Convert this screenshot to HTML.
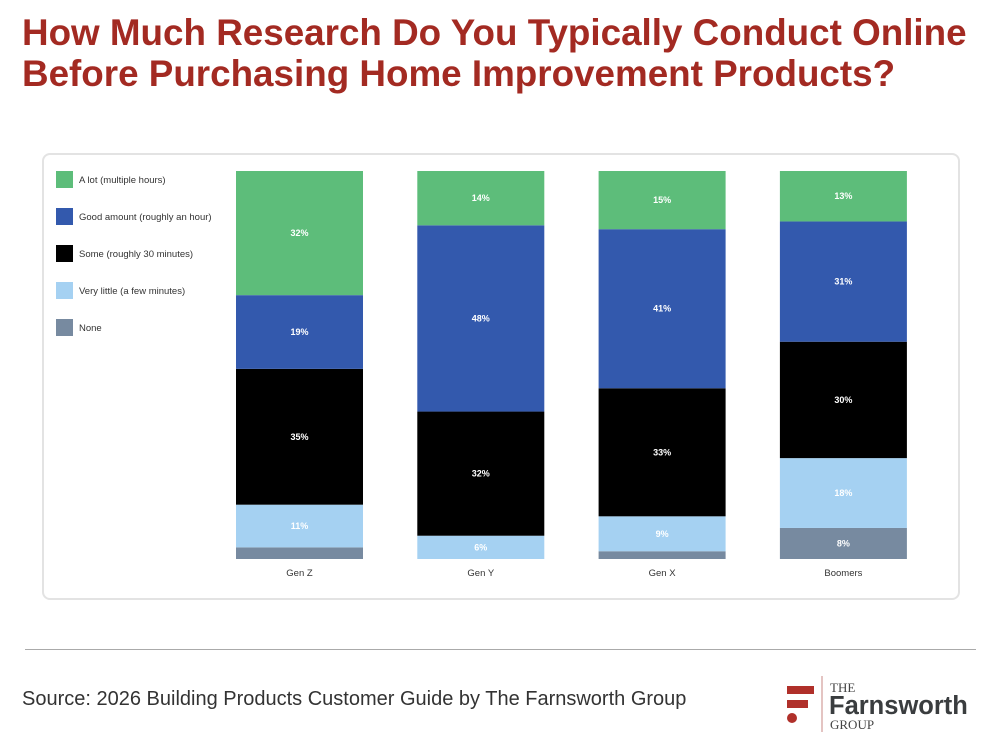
<!DOCTYPE html>
<html><head><meta charset="utf-8"><style>
body{margin:0;width:1000px;height:750px;background:#fff;font-family:"Liberation Sans",sans-serif;overflow:hidden;position:relative}
h1{position:absolute;left:22px;top:12px;margin:0;font-size:36.8px;line-height:41px;color:#a32a22;font-weight:bold;white-space:nowrap}
#card{position:absolute;left:42px;top:153px;width:914px;height:443px;border:2px solid #e3e3e3;border-radius:8px}
#rule{position:absolute;left:25px;top:649px;width:951px;height:1px;background:#aaa}
#src{position:absolute;left:22px;top:688px;font-size:20px;color:#333}
</style></head><body>
<h1>How Much Research Do You Typically Conduct Online<br>Before Purchasing Home Improvement Products?</h1>
<div id="card"></div>
<svg id="chart" width="1000" height="750" style="position:absolute;left:0;top:0"></svg>
<div id="rule"></div>
<div id="src">Source: 2026 Building Products Customer Guide by The Farnsworth Group</div>
<svg width="200" height="80" style="position:absolute;left:780px;top:670px">
<rect x="7" y="16" width="27" height="8" fill="#b0302a"/><rect x="7" y="30" width="21" height="8" fill="#b0302a"/><circle cx="12" cy="48" r="5" fill="#b0302a"/>
<line x1="42" y1="6" x2="42" y2="62" stroke="#c98a85" stroke-width="1"/>
<text x="50" y="22" font-family="Liberation Serif" font-size="13" fill="#444">THE</text>
<text x="49" y="44" font-family="Liberation Sans" font-weight="bold" font-size="25.5" fill="#3a3d3f">Farnsworth</text>
<text x="50" y="59" font-family="Liberation Serif" font-size="13" fill="#444">GROUP</text>
</svg>
<script>
const categories=["Gen Z","Gen Y","Gen X","Boomers"];
const seriesNames=["A lot (multiple hours)","Good amount (roughly an hour)","Some (roughly 30 minutes)","Very little (a few minutes)","None"];
const aLot=[32,14,15,13];
const goodAmount=[19,48,41,31];
const some=[35,32,33,30];
const veryLittle=[11,6,9,18];
const none=[3,0,2,8];
const colors=["#5dbd7a","#3359ad","#000000","#a5d1f2","#778aa0"];
const series=[aLot,goodAmount,some,veryLittle,none];
const svg=document.getElementById('chart');
const NS="http://www.w3.org/2000/svg";
const plotBottom=559,plotH=388,bandStart=236,bandStep=181.3,barW=127;
function y(v){return plotBottom-v/100*plotH;}
function x(i){return bandStart+i*bandStep;}
function mk(t,a){const e=document.createElementNS(NS,t);for(const k in a)e.setAttribute(k,a[k]);svg.appendChild(e);return e;}
categories.forEach((c,i)=>{
  let cum=0;
  for(let s=series.length-1;s>=0;s--){
    const v=series[s][i];if(v<=0)continue;
    const r=mk('rect',{x:x(i),y:y(cum+v),width:barW,height:y(cum)-y(cum+v),fill:colors[s]});
    
    
    if(v>=5){
      const t=mk('text',{x:x(i)+barW/2,y:(y(cum)+y(cum+v))/2+3,'text-anchor':'middle','font-size':'9','font-weight':'bold',fill:'#fff','font-family':'Liberation Sans'});
      t.textContent=v+'%';
      
      
    }
    cum+=v;
  }
  const l=mk('text',{x:x(i)+barW/2,y:576,'text-anchor':'middle','font-size':'9.5',fill:'#333','font-family':'Liberation Sans'});
  l.textContent=c;
  
  
});
seriesNames.forEach((n,s)=>{
  const r=mk('rect',{x:56,y:171+s*37,width:17,height:17,fill:colors[s]});
  
  
  const t=mk('text',{x:79,y:183+s*37,'font-size':'9.5',fill:'#333','font-family':'Liberation Sans'});
  t.textContent=n;
  
  
});
</script>
</body></html>
